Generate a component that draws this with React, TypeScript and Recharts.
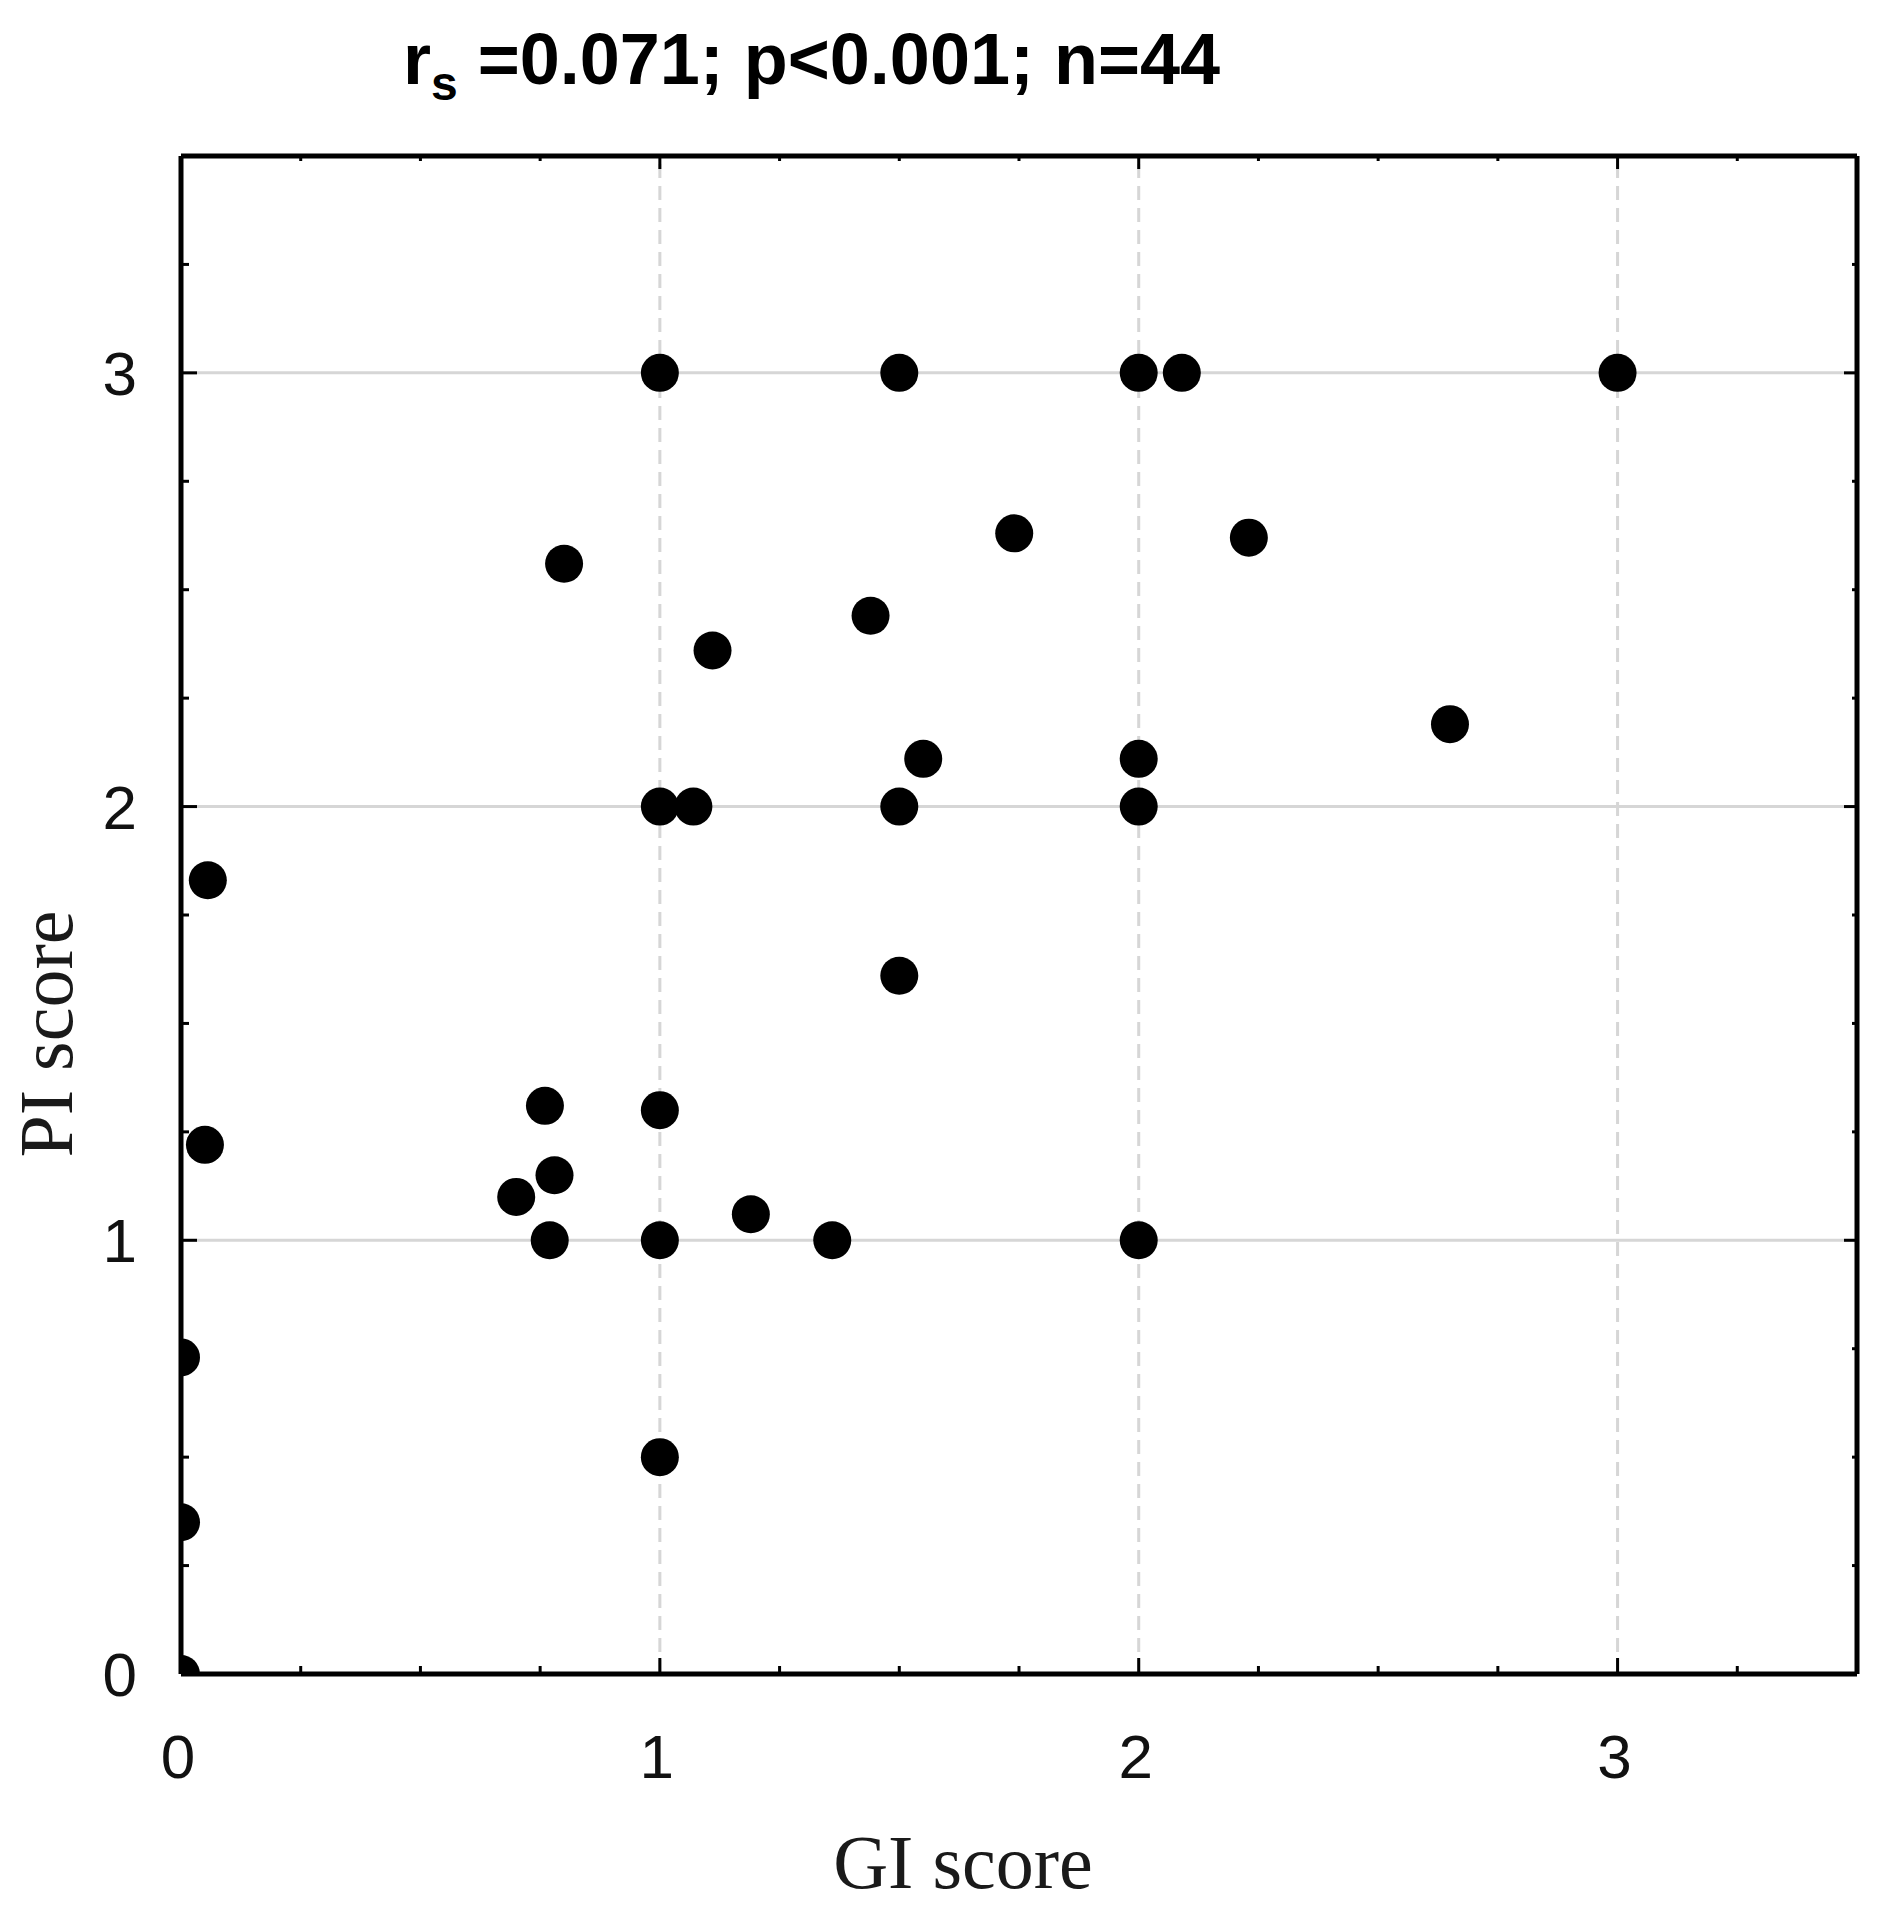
import React from 'react';
import {
  ScatterChart,
  Scatter,
  XAxis,
  YAxis,
  ReferenceLine,
} from 'recharts';

// GI score (x) and PI score (y) for each visible point
const giScores = [
  1.0, 1.5, 2.0, 2.09, 3.0, 1.74, 2.23, 0.8, 1.44, 1.11, 2.65, 1.55, 2.0, 1.0, 1.07, 1.5, 2.0,
  0.056, 1.5, 0.76, 1.0, 0.05, 0.78, 0.7, 1.19, 0.77, 1.0, 1.36, 2.0, 0.0, 1.0, 0.0, 0.0,
];
const piScores = [
  3.0, 3.0, 3.0, 3.0, 3.0, 2.63, 2.62, 2.56, 2.44, 2.36, 2.19, 2.11, 2.11, 2.0, 2.0, 2.0, 2.0,
  1.83, 1.61, 1.31, 1.3, 1.22, 1.15, 1.1, 1.06, 1.0, 1.0, 1.0, 1.0, 0.73, 0.5, 0.35, 0.0,
];

const axisTicks = [0, 0.25, 0.5, 0.75, 1, 1.25, 1.5, 1.75, 2, 2.25, 2.5, 2.75, 3, 3.25, 3.5];
const labelTicks = [0, 1, 2, 3];
const gridX = [1, 2, 3];
const gridY = [1, 2, 3];

const data = giScores.map((gi, i) => ({ gi, pi: piScores[i] }));

const W = 1886;
const H = 1916;
const MAJOR = 16;
const MINOR = 8;
const tickFont = { fontFamily: 'Liberation Sans, Arial, sans-serif', fontSize: 62, fill: '#111' };
const titleFont = { fontFamily: 'Liberation Serif, Times New Roman, serif', fontSize: 76, fill: '#1a1a1a' };
const frame = { stroke: '#000', strokeWidth: 5 };

const len = (v: number) => (Number.isInteger(v) ? MAJOR : MINOR);

function BottomTick({ x, y, payload }: any) {
  const v = payload.value;
  return (
    <g>
      <line x1={x} y1={y} x2={x} y2={y - len(v)} stroke="#000" strokeWidth={3} />
      {labelTicks.includes(v) && (
        <text x={x - 3} y={y + 104} textAnchor="middle" {...tickFont}>
          {v}
        </text>
      )}
    </g>
  );
}

function LeftTick({ x, y, payload }: any) {
  const v = payload.value;
  return (
    <g>
      <line x1={x} y1={y} x2={x + len(v)} y2={y} stroke="#000" strokeWidth={3} />
      {labelTicks.includes(v) && (
        <text x={x - 44} y={y + 22} textAnchor="end" {...tickFont}>
          {v}
        </text>
      )}
    </g>
  );
}

function TopTick({ x, y, payload }: any) {
  return <line x1={x} y1={y} x2={x} y2={y + len(payload.value) - 3} stroke="#000" strokeWidth={3} />;
}

function RightTick({ x, y, payload }: any) {
  return <line x1={x} y1={y} x2={x - len(payload.value) + 3} y2={y} stroke="#000" strokeWidth={3} />;
}

const Dot = ({ cx, cy }: any) => <circle cx={cx} cy={cy} r={19} fill="#000" />;
const NoDot = () => <g />;

export default function App() {
  return (
    <div style={{ position: 'absolute', left: 0, top: 0, width: W, height: H, background: '#fff' }}>
      <ScatterChart width={W} height={H} margin={{ top: 155, right: 28, left: 0, bottom: 0 }}>
        <XAxis
          type="number"
          dataKey="gi"
          domain={[0, 3.5]}
          ticks={axisTicks}
          interval={0}
          allowDataOverflow
          height={242}
          tickSize={0}
          tickMargin={0}
          tickLine={false}
          axisLine={frame}
          tick={BottomTick}
        />
        <XAxis
          xAxisId="top"
          orientation="top"
          type="number"
          dataKey="gi"
          domain={[0, 3.5]}
          ticks={axisTicks}
          interval={0}
          allowDataOverflow
          height={1}
          tickSize={0}
          tickMargin={0}
          tickLine={false}
          axisLine={frame}
          tick={TopTick}
        />
        <YAxis
          type="number"
          dataKey="pi"
          domain={[0, 3.5]}
          ticks={axisTicks}
          interval={0}
          allowDataOverflow
          width={181}
          tickSize={0}
          tickMargin={0}
          tickLine={false}
          axisLine={frame}
          tick={LeftTick}
        />
        <YAxis
          yAxisId="right"
          orientation="right"
          type="number"
          dataKey="pi"
          domain={[0, 3.5]}
          ticks={axisTicks}
          interval={0}
          allowDataOverflow
          width={1}
          tickSize={0}
          tickMargin={0}
          tickLine={false}
          axisLine={frame}
          tick={RightTick}
        />
        {gridY.map((v) => (
          <ReferenceLine key={`gy${v}`} y={v} stroke="#d6d6d6" strokeWidth={3} />
        ))}
        {gridX.map((v) => (
          <ReferenceLine key={`gx${v}`} x={v} stroke="#d6d6d6" strokeWidth={3} strokeDasharray="14 8" />
        ))}
        <Scatter
          data={data}
          xAxisId="top"
          yAxisId="right"
          shape={NoDot}
          isAnimationActive={false}
        />
        <Scatter data={data} shape={Dot} isAnimationActive={false} />
        <text
          x={403}
          y={84}
          textLength={817}
          lengthAdjust="spacingAndGlyphs"
          fontFamily="Liberation Sans Narrow, Arial Narrow, Liberation Sans, Arial, sans-serif"
          fontWeight="bold"
          fontSize={72}
          fill="#000"
        >
          r
          <tspan fontSize={48} dy={16}>
            s
          </tspan>
          <tspan dy={-16}> =0.071; p&lt;0.001; n=44</tspan>
        </text>
        <text x={963} y={1888} textAnchor="middle" {...titleFont}>
          GI score
        </text>
        <text
          x={72}
          y={1034}
          textAnchor="middle"
          transform="rotate(-90 72 1034)"
          {...titleFont}
        >
          PI score
        </text>
      </ScatterChart>
    </div>
  );
}
